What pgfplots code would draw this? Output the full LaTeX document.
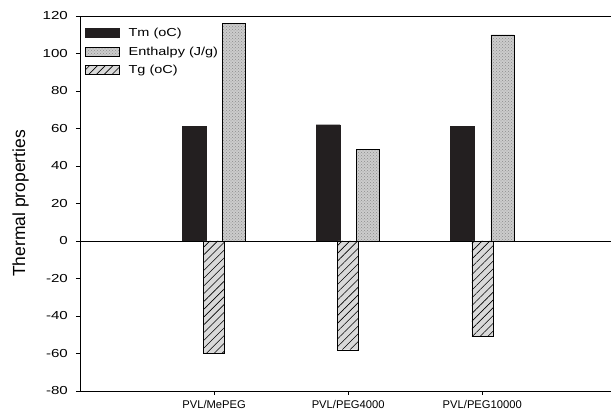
\documentclass[border=0pt]{standalone}
\usepackage{pgfplots}
\pgfplotsset{compat=1.18}
\usetikzlibrary{patterns,patterns.meta}
\usepackage{fontspec}
\setmainfont{Liberation Sans}
\newfontfamily\wideA{Liberation Sans}[FakeStretch=1.3]
\newfontfamily\wideB{Liberation Sans}[FakeStretch=1.25]
\definecolor{tmc}{HTML}{231F20}
\begin{document}
\begin{tikzpicture}
\begin{axis}[name=ax, scale only axis, width=531pt, height=375pt,
  xmin=0, xmax=3.96, ymin=-80, ymax=120,
  axis x line=box, axis y line=left, axis line style={-, line width=0.8pt},
  xtick={1,2,3}, xticklabels={PVL/MePEG,PVL/PEG4000,PVL/PEG10000},
  ytick={-80,-60,...,120},
  tick align=outside, major tick length=4pt,
  tick style={black, line width=0.8pt},
  xtick pos=left, ytick pos=left,
  /pgf/number format/assume math mode=true,
  yticklabel style={font=\wideA\fontsize{11.6}{14}\selectfont, inner sep=0pt, anchor=east, xshift=-8pt},
  xticklabel style={font=\fontsize{11.2}{14}\selectfont, inner sep=0pt, anchor=north, yshift=-5pt},
  ylabel={Thermal properties},
  ylabel style={font=\fontsize{17.5}{20}\selectfont, at={(axis description cs:-0.096,0.5)}, anchor=south, inner sep=0pt, rotate=0},
  legend image code/.code={\draw[#1] (0pt,-4.5pt) rectangle (34pt,4.5pt); \path (43pt,0pt);},
  legend style={at={(rel axis cs:0,1)}, anchor=north west, xshift=5pt, yshift=-12pt,
    draw=none, fill=none, inner sep=0pt, row sep=8.6pt, column sep=0pt,
    font=\wideB\fontsize{11.6}{14}\selectfont, nodes={inner sep=0pt}},
  legend cell align=left,
]
\addplot[ybar, bar width=24pt, bar shift=-20pt, fill=tmc, draw=tmc] coordinates {(1,61) (2,62) (3,61)};
\addlegendentry{Tm (oC)}
\addplot[ybar, bar width=23pt, bar shift=20pt, draw=black, fill=gray!40, postaction={pattern=crosshatch dots, pattern color=gray!90}] coordinates {(1,116) (2,49) (3,110)};
\addlegendentry{Enthalpy (J/g)}
\addplot[ybar, bar width=21pt, bar shift=0pt, draw=black, fill=gray!30, postaction={pattern={Lines[angle=45,distance=5.5pt,line width=0.6pt]}, pattern color=black}] coordinates {(1,-60) (2,-58) (3,-51)};
\addlegendentry{Tg (oC)}
\addplot[black, line width=0.8pt, forget plot] coordinates {(0,0) (3.96,0)};
\end{axis}
\pgfresetboundingbox
\path ([xshift=-80pt,yshift=-21pt]ax.south west) rectangle ([yshift=16pt]ax.north east);
\end{tikzpicture}
\end{document}
